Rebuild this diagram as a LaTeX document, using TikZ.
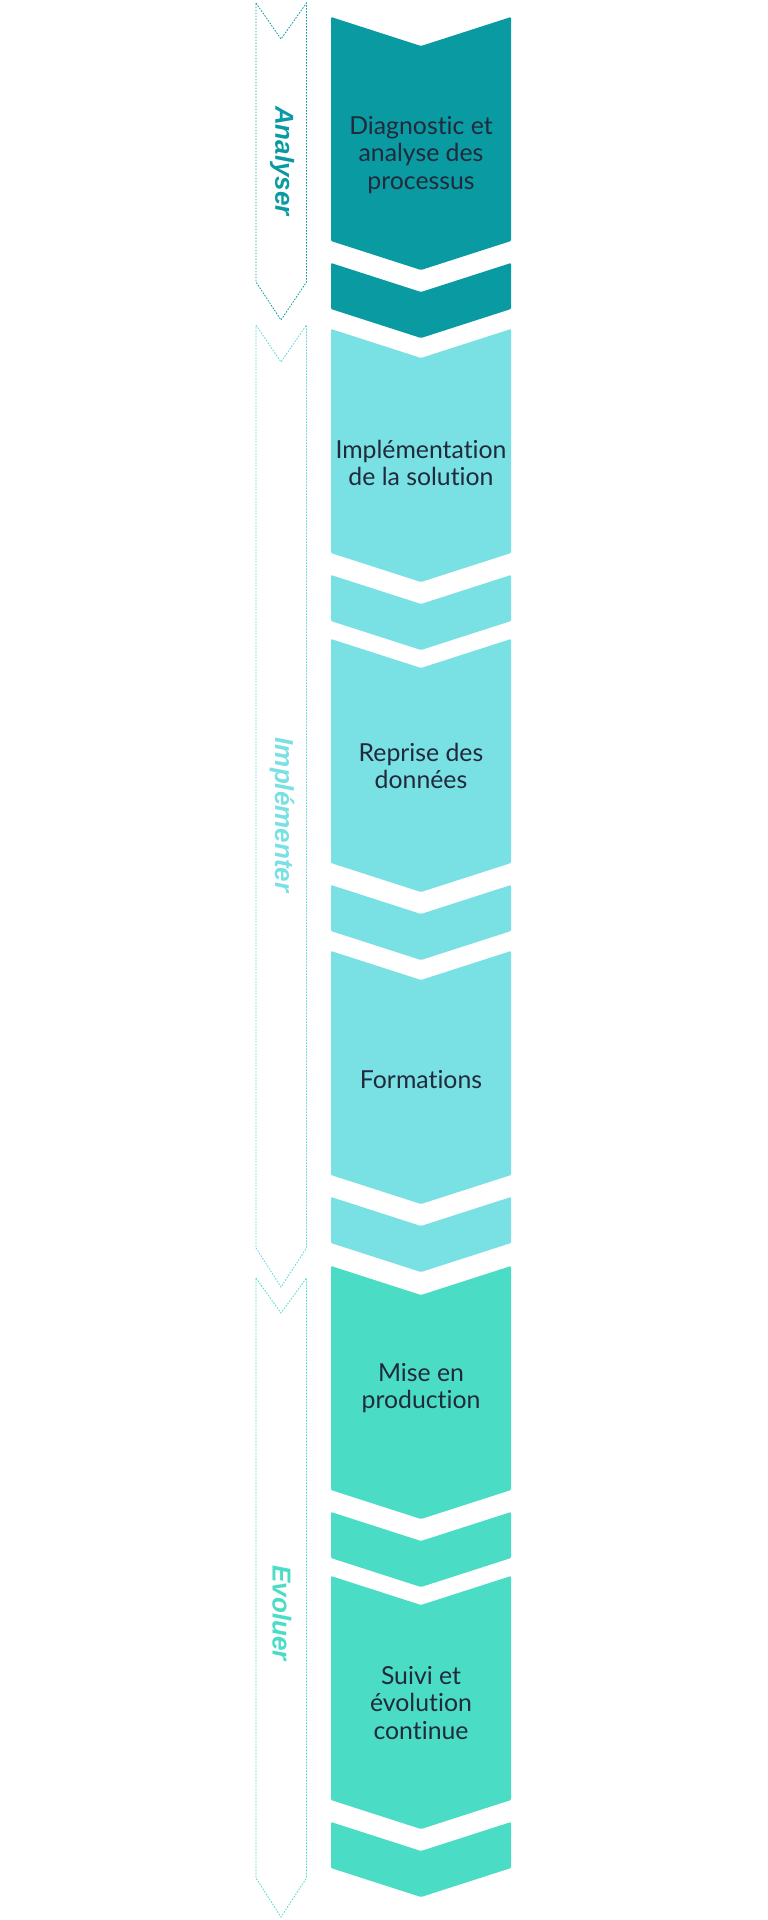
\documentclass[tikz,border=0pt]{standalone}
\usepackage{fontspec}
\setmainfont{Lato}[Ligatures={NoCommon,NoRequired,NoContextual}]
\newfontfamily\labelfont{Liberation Sans}
\definecolor{tealA}{RGB}{10,154,162}
\definecolor{cyanB}{RGB}{121,224,228}
\definecolor{turqC}{RGB}{75,220,197}
\definecolor{cyanLine}{RGB}{95,214,224}
\definecolor{txt}{RGB}{32,42,58}
\begin{document}
\begin{tikzpicture}[x=1pt,y=-1pt,
  blocktext/.style={align=center,text=txt,font=\fontsize{24.8}{27.5}\selectfont,inner sep=0pt},
  phaselabel/.style={rotate=-90,font=\labelfont\bfseries\itshape\fontsize{26}{30}\selectfont,inner sep=0pt},
  phasebox/.style={dashed,dash pattern=on 1.6pt off 1.4pt,line width=0.8pt},
  blockfill/.style={rounded corners=1pt}]
\useasboundingbox (0,0) rectangle (768,1920);
\fill[white] (0,0) rectangle (768,1920);
\def\L{331}\def\R{511}\def\C{421}
\foreach \T/\col in {17/tealA,329/cyanB,639/cyanB,951/cyanB,1266/turqC,1576/turqC}{
  \fill[\col,blockfill] (\L,\T) -- (\C,\T+29) -- (\R,\T) -- (\R,\T+224) -- (\C,\T+253) -- (\L,\T+224) -- cycle;
  \fill[\col,blockfill] (\L,\T+246) -- (\C,\T+275) -- (\R,\T+246) -- (\R,\T+292) -- (\C,\T+321) -- (\L,\T+292) -- cycle;
}
% phase arrows
\draw[phasebox,tealA] (256,3) -- (281,39) -- (306.5,3) -- (306.5,282) -- (281,320) -- (256,282) -- cycle;
\draw[phasebox,cyanLine] (256,325) -- (281,362) -- (306.5,325) -- (306.5,1248) -- (281,1287) -- (256,1248) -- cycle;
\draw[phasebox,turqC] (256,1278) -- (281,1313) -- (306.5,1278) -- (306.5,1878) -- (281,1917) -- (256,1878) -- cycle;
% phase labels
\node[phaselabel,text=tealA] (analyser) at (282,161) {Analyser};
\node[phaselabel,text=cyanB] (implementer) at (282,815) {Implémenter};
\node[phaselabel,text=turqC] (evoluer) at (282,1613) {Evoluer};
% block texts
\node[blocktext] (b1) at (421,155) {Diagnostic et\\analyse des\\processus};
\node[blocktext] (b2) at (421,463) {Implémentation\\de la solution};
\node[blocktext] (b3) at (421,766) {Reprise des\\données};
\node[blocktext] (b4) at (421,1080) {Formations};
\node[blocktext] (b5) at (421,1388) {Mise en\\production};
\node[blocktext] (b6) at (421,1703) {Suivi et\\évolution\\continue};
\end{tikzpicture}
\end{document}
